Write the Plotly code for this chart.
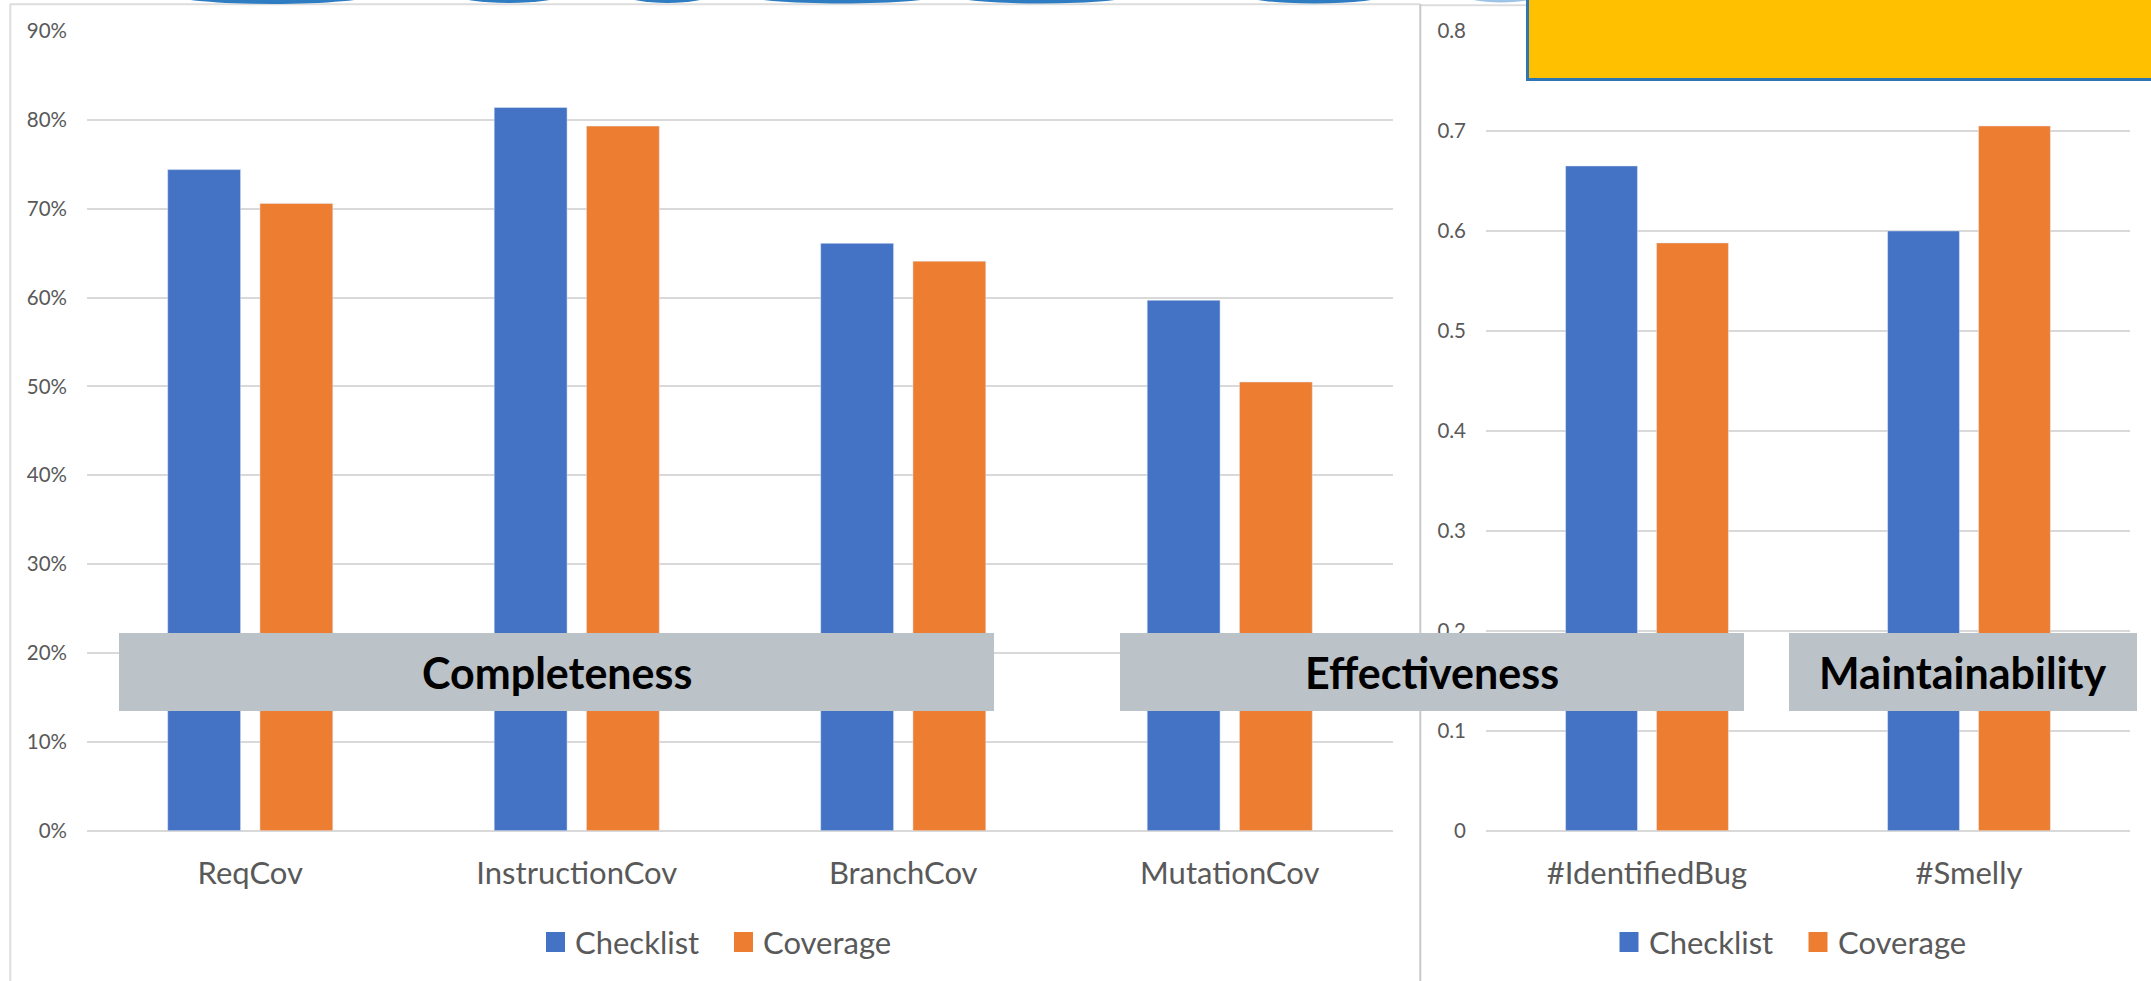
import plotly.graph_objects as go

# ---- data -------------------------------------------------------------
coverage_metrics = ["ReqCov", "InstructionCov", "BranchCov", "MutationCov"]
checklist_cov = [0.744, 0.814, 0.661, 0.597]
coverage_cov = [0.706, 0.793, 0.641, 0.505]

quality_metrics = ["#IdentifiedBug", "#Smelly"]
checklist_quality = [0.665, 0.600]
coverage_quality = [0.588, 0.705]

series_names = ["Checklist", "Coverage"]
group_labels = ["Completeness", "Effectiveness", "Maintainability"]

# ---- styling ----------------------------------------------------------
W, H = 2151, 981
BLUE = "#4472C4"
ORANGE = "#ED7D31"
GRID = "#D9D9D9"
TEXT = "#595959"
FONT = "Lato"


def px(x):
    return x / W


def py(y):
    return 1 - y / H


fig = go.Figure()

fig.add_trace(go.Bar(x=coverage_metrics, y=checklist_cov, name=series_names[0],
                     marker_color=BLUE, xaxis="x", yaxis="y"))
fig.add_trace(go.Bar(x=coverage_metrics, y=coverage_cov, name=series_names[1],
                     marker_color=ORANGE, xaxis="x", yaxis="y"))
fig.add_trace(go.Bar(x=quality_metrics, y=checklist_quality, name=series_names[0],
                     marker_color=BLUE, xaxis="x2", yaxis="y2"))
fig.add_trace(go.Bar(x=quality_metrics, y=coverage_quality, name=series_names[1],
                     marker_color=ORANGE, xaxis="x2", yaxis="y2"))

ydom = [py(830.7), py(31)]
axis_common = dict(showline=False, ticks="", fixedrange=True)

fig.update_layout(
    width=W, height=H,
    margin=dict(l=0, r=0, t=0, b=0, pad=0),
    paper_bgcolor="white", plot_bgcolor="white",
    showlegend=False,
    barmode="group", bargap=0.435, bargroupgap=0.21,
    font=dict(family=FONT, color=TEXT),
    xaxis=dict(domain=[px(87), px(1393)], range=[-0.5, 3.5], showgrid=False,
               tickfont=dict(size=31, color=TEXT), ticklabelstandoff=21,
               automargin=False, **axis_common),
    yaxis=dict(domain=ydom, range=[0, 0.9], dtick=0.1, tickformat=".0%",
               showgrid=True, gridcolor=GRID, gridwidth=1.5,
               zeroline=True, zerolinecolor=GRID, zerolinewidth=1.5,
               tickfont=dict(size=20.5, color=TEXT), ticklabelstandoff=19,
               automargin=False, **axis_common),
    xaxis2=dict(domain=[px(1486), px(2130)], range=[-0.5, 1.5], showgrid=False,
                anchor="y2",
                tickfont=dict(size=31, color=TEXT), ticklabelstandoff=21,
                automargin=False, **axis_common),
    yaxis2=dict(domain=ydom, range=[0, 0.8], dtick=0.1, anchor="x2",
                showgrid=True, gridcolor=GRID, gridwidth=1.5,
                zeroline=True, zerolinecolor=GRID, zerolinewidth=1.5,
                tickfont=dict(size=20.5, color=TEXT), ticklabelstandoff=19,
                automargin=False, **axis_common),
)

shapes = []
annotations = []

# panel frames
shapes += [
    dict(type="line", xref="paper", yref="paper", x0=px(10.3), x1=px(10.3),
         y0=py(4), y1=py(990), line=dict(color="#DDDDDD", width=2)),
    dict(type="line", xref="paper", yref="paper", x0=px(10), x1=px(1420),
         y0=py(4.3), y1=py(4.3), line=dict(color="#DDDDDD", width=2)),
    dict(type="line", xref="paper", yref="paper", x0=px(1420), x1=px(1530),
         y0=py(5.2), y1=py(5.2), line=dict(color="#DDDDDD", width=2)),
    dict(type="line", xref="paper", yref="paper", x0=px(1420.3), x1=px(1420.3),
         y0=py(4), y1=py(990), line=dict(color="#C9C9C9", width=2)),
]

# blue ribbon edges peeking in at the top
for x0, x1, depth, col in [(174, 371, 4.0, "#2E7CC2"), (456, 562, 3.0, "#2E7CC2"),
                           (625, 710, 3.0, "#2E7CC2"), (744, 940, 3.5, "#2E7CC2"),
                           (950, 1133, 3.5, "#2E7CC2"), (1244, 1385, 3.5, "#2E7CC2"),
                           (1462, 1540, 2.5, "#9DC3E6")]:
    shapes.append(dict(type="circle", xref="paper", yref="paper",
                       x0=px(x0), x1=px(x1), y0=py(depth), y1=py(-14),
                       fillcolor=col, line=dict(width=0), layer="above"))

# yellow callout box in the corner
shapes.append(dict(type="rect", xref="paper", yref="paper",
                   x0=px(1527.5), x1=px(2170), y0=py(79.5), y1=py(-20),
                   fillcolor="#FFC000", line=dict(color="#2E75B6", width=3),
                   layer="above"))

# group label banners
for label, (x0, x1) in zip(group_labels, [(119, 994), (1120, 1744), (1789, 2137)]):
    shapes.append(dict(type="rect", xref="paper", yref="paper",
                       x0=px(x0), x1=px(x1), y0=py(711), y1=py(633),
                       fillcolor="#BBC2C8", line=dict(width=0), layer="above"))
    annotations.append(dict(x=px((x0 + x1) / 2), y=py(672), xref="paper", yref="paper",
                            text=f"<b>{label}</b>", showarrow=False,
                            xanchor="center", yanchor="middle",
                            font=dict(family=FONT, size=43, color="black")))

# legends (one per panel)
for sq1, sq2 in [(546, 734), (1619.5, 1808.5)]:
    for sx, name, col in [(sq1, series_names[0], BLUE), (sq2, series_names[1], ORANGE)]:
        shapes.append(dict(type="rect", xref="paper", yref="paper",
                           x0=px(sx), x1=px(sx + 19), y0=py(952), y1=py(932),
                           fillcolor=col, line=dict(width=0)))
        annotations.append(dict(x=px(sx + 27), y=py(942), xref="paper", yref="paper",
                                text=name, showarrow=False,
                                xanchor="left", yanchor="middle",
                                font=dict(family=FONT, size=31, color=TEXT)))

fig.update_layout(shapes=shapes, annotations=annotations)

fig.write_html("out.html")
